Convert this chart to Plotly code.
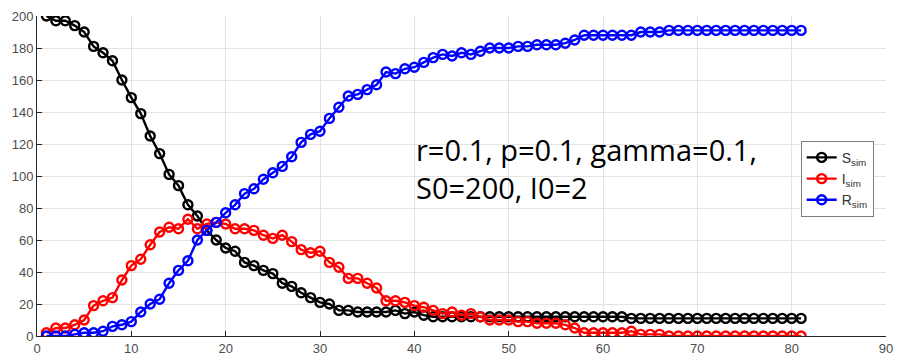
import plotly.graph_objects as go

t = list(range(1, 82))

S_sim = [200, 197, 197, 194, 190, 181, 177, 172, 160, 149,
         139, 125, 114, 101, 94, 82, 75, 66, 60, 55,
         53, 46, 44, 41, 39, 33, 31, 27, 24, 21,
         20, 16, 16, 15, 15, 15, 15, 16, 14, 15,
         13, 12, 12, 12, 12, 12, 12, 12, 12, 12,
         12, 12, 12, 12, 12, 12, 12, 12, 12, 12,
         12, 12, 11, 11, 11, 11, 11, 11, 11, 11,
         11, 11, 11, 11, 11, 11, 11, 11, 11, 11, 11]

I_sim = [2, 5, 5, 7, 10, 19, 22, 24, 35, 44,
         48, 57, 65, 68, 67, 73, 67, 70, 71, 70,
         67, 67, 66, 63, 61, 63, 59, 54, 52, 53,
         46, 43, 36, 36, 33, 30, 22, 22, 21, 19,
         18, 16, 14, 15, 13, 14, 12, 10, 10, 10,
         9, 9, 8, 8, 8, 7, 5, 2, 2, 2,
         2, 2, 3, 1, 1, 1, 0, 0, 0, 0,
         0, 0, 0, 0, 0, 0, 0, 0, 0, 0, 0]

R_sim = [0, 0, 0, 1, 2, 2, 3, 6, 7, 9,
         15, 20, 23, 33, 41, 47, 60, 66, 71, 77,
         82, 89, 92, 98, 102, 106, 112, 121, 126, 128,
         136, 143, 150, 151, 154, 157, 165, 164, 167, 168,
         171, 174, 176, 175, 177, 176, 178, 180, 180, 180,
         181, 181, 182, 182, 182, 183, 185, 188, 188, 188,
         188, 188, 188, 190, 190, 190, 191, 191, 191, 191,
         191, 191, 191, 191, 191, 191, 191, 191, 191, 191, 191]

series = [("S<sub>sim</sub>", S_sim, "#000000"),
          ("I<sub>sim</sub>", I_sim, "#ff0000"),
          ("R<sub>sim</sub>", R_sim, "#0000ff")]

x_ticks = [0, 10, 20, 30, 40, 50, 60, 70, 80, 90]
y_ticks = [0, 20, 40, 60, 80, 100, 120, 140, 160, 180, 200]

text_lines = ["r=0.1, p=0.1, gamma=0.1,", "S0=200, I0=2"]

fig = go.Figure()
for name, vals, col in series:
    fig.add_trace(go.Scatter(
        x=t, y=vals, name=name, mode="lines+markers",
        line=dict(color=col, width=2.4),
        marker=dict(symbol="circle-open", size=9, color=col,
                    line=dict(width=2.4, color=col)),
    ))

for txt, yv in zip(text_lines, [116.5, 93.0]):
    fig.add_annotation(
        x=40, y=yv, xref="x", yref="y",
        text=txt,
        showarrow=False, xanchor="left", yanchor="middle", align="left",
        font=dict(family="Open Sans, Noto Sans, sans-serif", size=29, color="#000000"),
    )

axis_common = dict(
    showgrid=True, gridcolor="#e3e3e3", gridwidth=1,
    zeroline=False, showline=True, linecolor="#262626", linewidth=1,
    ticks="inside", ticklen=5, tickcolor="#262626",
    tickfont=dict(family="Liberation Sans, Arial, sans-serif", size=13, color="#4d4d4d"),
    mirror=False, automargin=False,
)

fig.update_layout(
    width=897, height=359,
    margin=dict(l=37, r=11, t=16, b=23),
    paper_bgcolor="white", plot_bgcolor="white",
    xaxis=dict(range=[0, 90], tickvals=x_ticks, **axis_common),
    yaxis=dict(range=[0, 200], tickvals=y_ticks, **axis_common),
    legend=dict(
        x=0.8995, y=0.61, xanchor="left", yanchor="top",
        bgcolor="white", bordercolor="#7f7f7f", borderwidth=1,
        font=dict(family="Liberation Sans, Arial, sans-serif", size=14, color="#333333"),
        tracegroupgap=0, itemwidth=30,
    ),
    showlegend=True,
)

fig.write_html("out.html")
